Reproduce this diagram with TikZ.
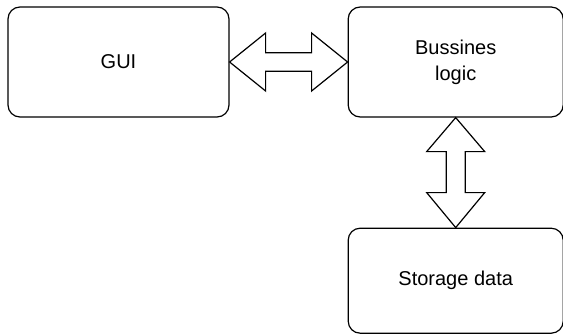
\documentclass[tikz,border=0pt]{standalone}
\usepackage{fontspec}
\setmainfont{Liberation Sans}
\usetikzlibrary{positioning,calc}

\begin{document}
\begin{tikzpicture}[x=1pt, y=1pt, every node/.style={font=\fontsize{20}{26}\selectfont},
	block/.style={draw, rounded corners=12pt, line width=1.2pt, minimum height=110pt, align=center},
	link/.style={draw, line width=1.2pt, fill=white, line join=miter}]
	\useasboundingbox (0,0) rectangle (563,333);
	\node[block, minimum width=221pt] (gui) at (118.5,271) {GUI};
	\node[block, minimum width=215pt, right=118pt of gui] (logic) {Bussines\\logic};
	\node[block, minimum width=215pt, minimum height=105pt, below=110pt of logic] (store) {Storage data};
	\draw[link] (gui.east) -- ($(gui.east)+(36,29)$) -- ($(gui.east)+(36,9.25)$) -- ($(logic.west)+(-36,9.25)$) -- ($(logic.west)+(-36,29)$) -- (logic.west)
		-- ($(logic.west)+(-36,-29)$) -- ($(logic.west)+(-36,-9.25)$) -- ($(gui.east)+(36,-9.25)$) -- ($(gui.east)+(36,-29)$) -- cycle;
	\draw[link] (logic.south) -- ($(logic.south)+(-29,-34)$) -- ($(logic.south)+(-9.5,-34)$) -- ($(store.north)+(-9.5,35)$) -- ($(store.north)+(-29,35)$) -- (store.north)
		-- ($(store.north)+(29,35)$) -- ($(store.north)+(9.5,35)$) -- ($(logic.south)+(9.5,-34)$) -- ($(logic.south)+(29,-34)$) -- cycle;
\end{tikzpicture}
\end{document}
